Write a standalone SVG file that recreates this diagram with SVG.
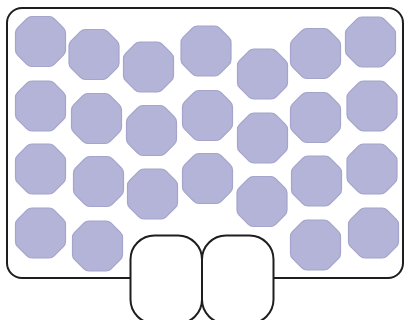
<svg xmlns="http://www.w3.org/2000/svg" width="404" height="320" viewBox="0 0 404 320">
<style>
.frame{fill:#fff;stroke:#1e1e1e;stroke-width:2}
.oct{fill:#b4b4d8;stroke:#a4a4cc;stroke-width:1.2;stroke-linejoin:round}
</style>
<defs>
<path id="o" d="M-8.5,-25 L8.5,-25 Q11.5,-25 13.62,-22.88 L22.88,-13.62 Q25,-11.5 25,-8.5 L25,8.5 Q25,11.5 22.88,13.62 L13.62,22.88 Q11.5,25 8.5,25 L-8.5,25 Q-11.5,25 -13.62,22.88 L-22.88,13.62 Q-25,11.5 -25,8.5 L-25,-8.5 Q-25,-11.5 -22.88,-13.62 L-13.62,-22.88 Q-11.5,-25 -8.5,-25 Z"/>
</defs>
<rect width="404" height="320" fill="#fff"/>
<g id="container"><rect class="frame" x="7" y="8" width="396" height="270" rx="15"/></g>
<g id="cells">
<use href="#o" class="oct" x="40.5" y="41.5"/>
<use href="#o" class="oct" x="40.5" y="106"/>
<use href="#o" class="oct" x="40.5" y="169"/>
<use href="#o" class="oct" x="40.5" y="233"/>
<use href="#o" class="oct" x="94" y="54.5"/>
<use href="#o" class="oct" x="96.5" y="118.5"/>
<use href="#o" class="oct" x="98.5" y="181.5"/>
<use href="#o" class="oct" x="97.5" y="246"/>
<use href="#o" class="oct" x="148.5" y="67"/>
<use href="#o" class="oct" x="151.5" y="130.5"/>
<use href="#o" class="oct" x="152.5" y="194"/>
<use href="#o" class="oct" x="206" y="51"/>
<use href="#o" class="oct" x="207.5" y="115.5"/>
<use href="#o" class="oct" x="207.5" y="178.5"/>
<use href="#o" class="oct" x="262.5" y="74"/>
<use href="#o" class="oct" x="262.5" y="138"/>
<use href="#o" class="oct" x="262" y="201.5"/>
<use href="#o" class="oct" x="315.5" y="53.5"/>
<use href="#o" class="oct" x="315.5" y="117.5"/>
<use href="#o" class="oct" x="316.5" y="181"/>
<use href="#o" class="oct" x="315.5" y="245"/>
<use href="#o" class="oct" x="370.5" y="42"/>
<use href="#o" class="oct" x="372" y="106"/>
<use href="#o" class="oct" x="372" y="169"/>
<use href="#o" class="oct" x="373.5" y="233"/>
</g>
<g id="port-left"><rect class="frame" x="130.5" y="235.5" width="71.5" height="88" rx="24"/></g>
<g id="port-right"><rect class="frame" x="202" y="235.5" width="71.5" height="88" rx="24"/></g>
</svg>
